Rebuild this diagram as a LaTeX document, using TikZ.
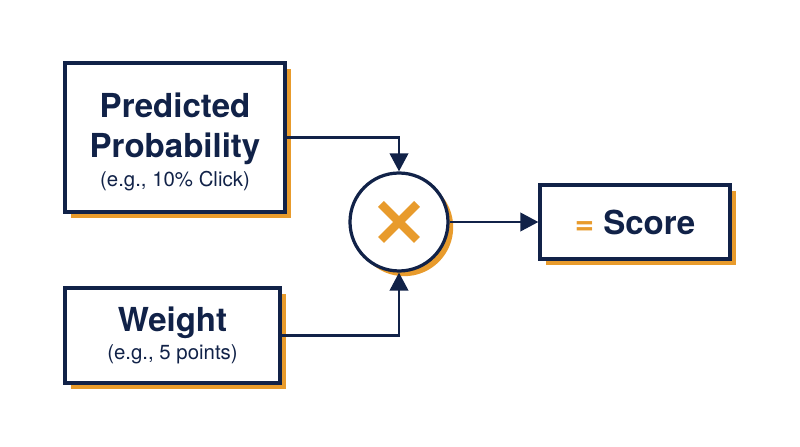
\documentclass[tikz,border=0pt]{standalone}
\usepackage{fontspec}
\setmainfont{TeX Gyre Heros}
\usetikzlibrary{arrows.meta, positioning, shadows}
\definecolor{navy}{HTML}{112248}
\definecolor{accent}{HTML}{E89B2C}
\newcommand{\headfont}{\fontsize{23.5}{28.5}\selectfont\bfseries}
\newcommand{\subfont}{\fontsize{14.5}{17}\selectfont\mdseries}

\begin{document}
\begin{tikzpicture}[
    box/.style={draw=navy, line width=2.3pt, fill=white, text=navy,
      font=\headfont, align=center,
      general shadow={fill=accent, shadow xshift=0.15cm, shadow yshift=-0.15cm}},
    op/.style={circle, draw=navy, line width=2.3pt, fill=white,
      minimum size=2.45cm,
      general shadow={fill=accent, shadow xshift=0.13cm, shadow yshift=-0.13cm}},
    arr/.style={-{Triangle[length=4.5mm, width=4.6mm]}, navy, line width=1.9pt},
    cross/.style={accent, line width=0.21cm},
  ]
    \useasboundingbox (0,0) rectangle (20,11.175);

    % ═══ Inputs ═══
    \node[box, minimum width=5.5cm, minimum height=3.725cm] (prob) at (4.375, 7.7375)
      {\rule{0pt}{24pt}Predicted\\Probability\\[-8pt]{\subfont (e.g., 10\% Click)}};
    \node[box, minimum width=5.375cm, minimum height=2.375cm] (weight) at (4.3125, 2.7875)
      {Weight\\[-8pt]{\subfont (e.g., 5 points)}};

    % ═══ Multiply ═══
    \node[op] (mul) at (9.975, 5.625) {};
    \draw[cross] ([shift={(-0.45,-0.45)}]mul.center) -- ([shift={(0.45,0.45)}]mul.center);
    \draw[cross] ([shift={(-0.45,0.45)}]mul.center) -- ([shift={(0.45,-0.45)}]mul.center);

    % ═══ Result ═══
    \node[box, minimum width=4.75cm, minimum height=1.85cm] (score) at (15.875, 5.625)
      {{\color{accent}=} Score};

    % Arrows
    \draw[arr] (prob.east) -| (mul.north);
    \draw[arr] (weight.east) -| (mul.south);
    \draw[arr] (mul.east) -- (score.west);
  \end{tikzpicture}
\end{document}
